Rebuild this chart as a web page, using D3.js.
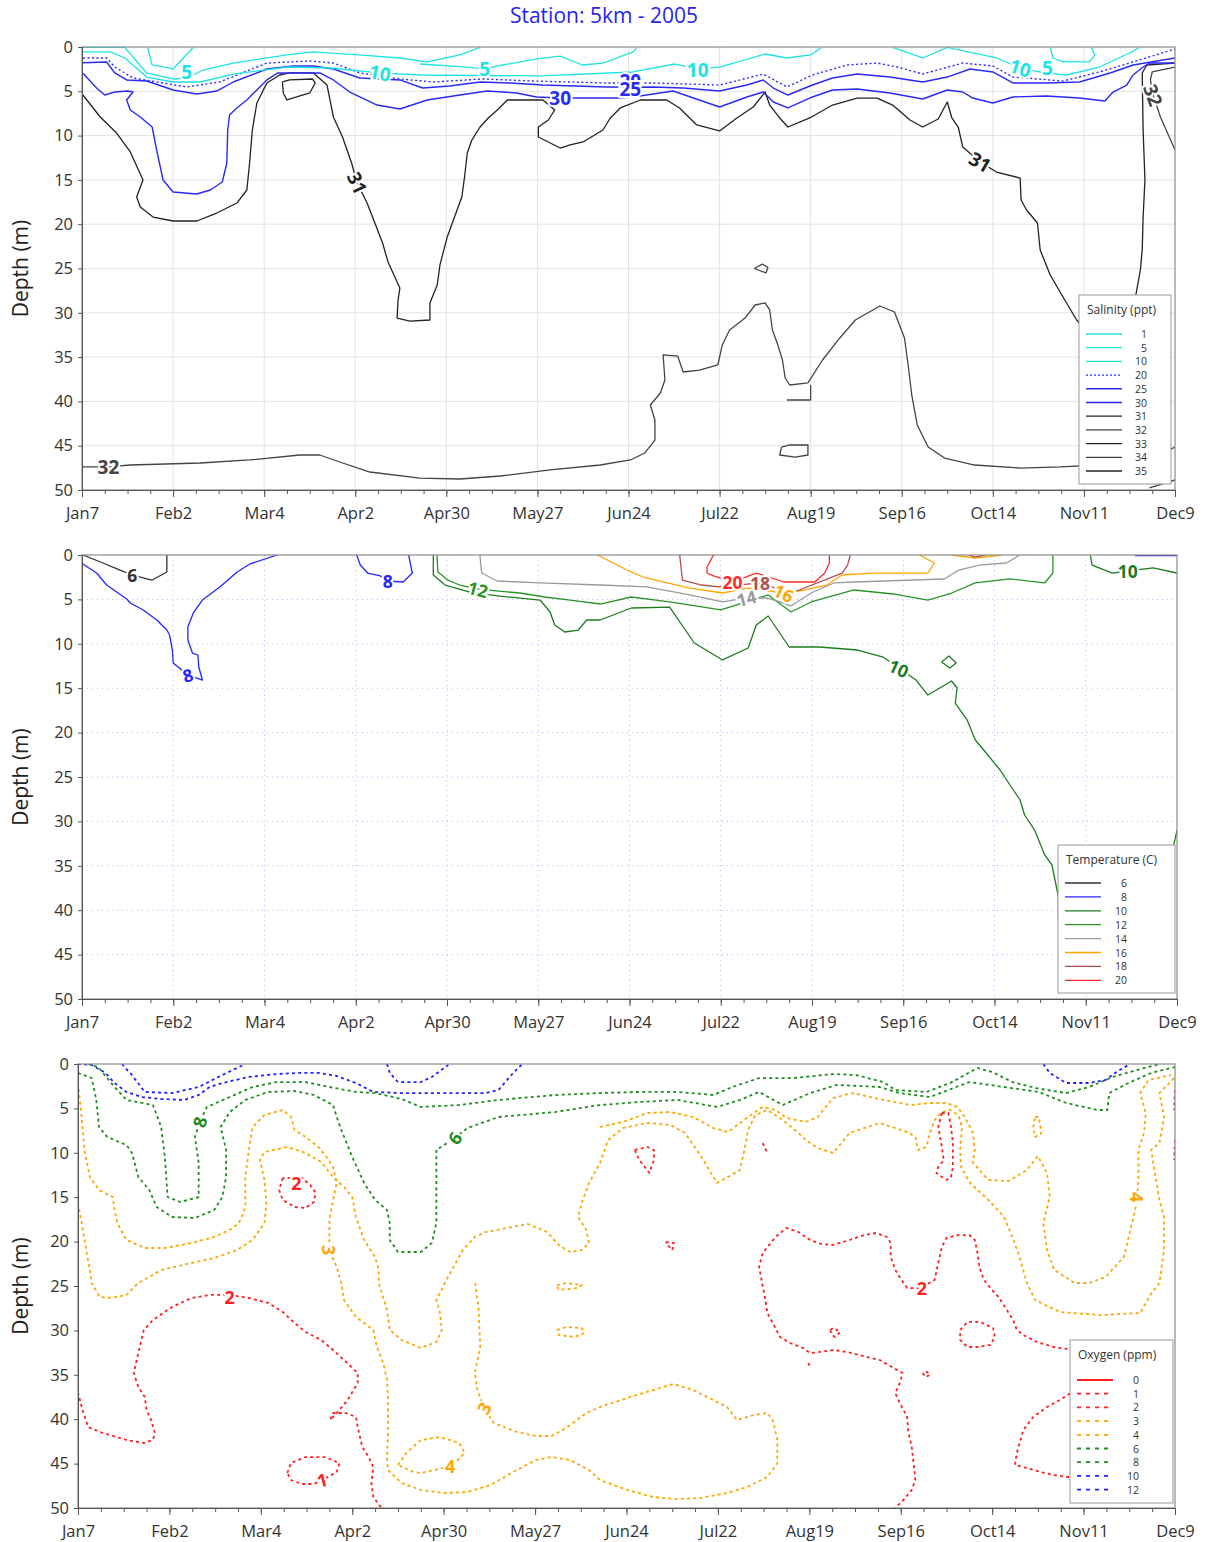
<!DOCTYPE html>
<html><head><meta charset="utf-8">
<script src="https://cdn.jsdelivr.net/npm/d3@7"></script>
<style>
body{margin:0;background:#fff;}
svg{display:block;font-family:"Open Sans","DejaVu Sans",sans-serif;}
</style>
</head><body>
<svg id="chart" width="1209" height="1542"></svg>
<script>
// ---------------- DATA ----------------
const tickLabels = ["Jan7","Feb2","Mar4","Apr2","Apr30","May27","Jun24","Jul22","Aug19","Sep16","Oct14","Nov11","Dec9"];
const depthTicks = [0,5,10,15,20,25,30,35,40,45,50];

const salinityLevels = [1,5,10,20,25,30,31,32,33,34,35];
const temperatureLevels = [6,8,10,12,14,16,18,20];
const oxygenLevels = [0,1,2,3,4,6,8,10,12];

// x = survey index (0 = Jan7 ... 12 = Dec9), y = depth (m)
const salinityLines = [
 {v:31, p:[[0.01,5.42],[0.20,7.90],[0.38,9.71],[0.53,11.85],[0.67,15.01],[0.60,16.93],[0.64,18.06],[0.78,19.19],[1.00,19.64],[1.26,19.64],[1.48,18.74],[1.70,17.61],[1.81,16.14],[1.84,13.09],[1.87,9.37],[1.92,6.32],[2.03,4.06],[2.17,3.16],[2.28,2.93],[2.54,2.93],[2.69,4.29],[2.76,7.90],[2.86,10.16],[2.96,13.09],[3.02,15.35],[3.13,17.61],[3.30,22.12],[3.36,24.27],[3.49,27.20],[3.47,28.56],[3.46,30.59],[3.60,30.93],[3.82,30.81],[3.82,28.89],[3.90,26.86],[3.93,24.60],[4.01,21.44],[4.09,19.19],[4.17,16.93],[4.20,14.67],[4.23,11.96],[4.28,10.50],[4.37,9.03],[4.46,8.01],[4.56,7.11],[4.67,5.98],[5.06,5.98],[5.19,7.11],[5.12,8.24],[5.01,9.03],[5.01,10.16],[5.25,11.40],[5.36,11.06],[5.50,10.72],[5.72,9.37],[5.80,8.01],[5.91,6.88],[6.13,5.98],[6.42,5.98],[6.56,6.88],[6.75,8.80],[7.00,9.48],[7.19,8.01],[7.37,6.77],[7.50,5.08],[7.55,6.55],[7.66,8.01],[7.75,9.03],[7.99,8.01],[8.24,6.55],[8.51,5.76],[8.73,5.76],[8.90,6.55],[9.09,8.24],[9.23,9.03],[9.40,8.13],[9.50,6.21],[9.55,8.01],[9.62,9.03],[9.67,11.29],[9.86,12.98],[10.04,14.11],[10.30,14.79],[10.31,17.27],[10.37,18.40],[10.49,19.86],[10.52,22.91],[10.63,25.73],[10.79,28.56],[10.92,30.81],[11.12,33.07],[11.39,33.63],[11.56,28.56],[11.62,25.17],[11.64,22.91],[11.65,19.19],[11.67,15.01],[11.65,9.37],[11.64,2.93],[11.69,2.03],[12.00,1.81]]},
 {v:31, closed:true, p:[[2.20,3.95],[2.21,5.19],[2.25,5.98],[2.50,5.19],[2.56,4.06],[2.53,3.61],[2.28,3.72]]},
 {v:32, p:[[12.00,2.26],[11.75,2.82],[11.73,3.72],[11.76,5.42],[11.84,7.90],[12.00,11.63]]},
 {v:32, p:[[0.00,47.40],[0.29,47.40],[0.53,47.18],[1.30,46.95],[1.84,46.61],[2.39,46.05],[2.61,46.05],[2.83,46.84],[3.16,47.97],[3.71,48.65],[4.15,48.76],[4.59,48.42],[5.14,47.74],[5.69,47.18],[6.02,46.61],[6.18,45.82],[6.29,44.36],[6.29,42.10],[6.24,40.41],[6.35,39.05],[6.40,37.58],[6.38,34.76],[6.54,34.88],[6.60,36.68],[6.78,36.46],[6.98,35.89],[7.03,33.63],[7.11,31.94],[7.28,30.59],[7.39,29.12],[7.50,28.89],[7.55,29.68],[7.58,31.94],[7.64,33.63],[7.69,35.33],[7.72,37.36],[7.77,38.15],[7.97,37.92],[8.13,35.33],[8.32,32.84],[8.49,30.81],[8.76,29.23],[8.92,29.91],[9.03,32.84],[9.07,35.89],[9.11,39.28],[9.17,42.66],[9.29,45.15],[9.47,46.39],[9.80,47.18],[10.30,47.52],[10.74,47.40],[11.17,47.18],[11.83,46.05],[12.00,45.15]]},
 {v:32, p:[[7.74,39.84],[8.00,39.84],[8.00,38.15]]},
 {v:32, p:[[11.72,49.77],[12.00,48.87]]},
 {v:32, closed:true, p:[[7.38,25.0],[7.47,24.5],[7.53,24.9],[7.51,25.5]]},
 {v:32, closed:true, p:[[7.68,45.15],[7.77,44.92],[7.97,44.92],[7.97,46.05],[7.83,46.28],[7.66,46.05]]},
 {v:30, p:[[0.01,2.97],[0.16,4.63],[0.25,5.42],[0.36,5.08],[0.50,4.97],[0.56,5.08],[0.49,5.98],[0.53,7.11],[0.64,7.90],[0.77,9.03],[0.82,11.63],[0.89,15.01],[1.00,16.37],[1.26,16.59],[1.41,16.14],[1.54,15.24],[1.59,13.09],[1.60,9.37],[1.62,7.67],[1.70,6.88],[1.81,5.98],[1.92,4.85],[2.03,3.72],[2.15,2.93],[2.61,2.93],[2.76,3.72],[2.94,5.08],[3.24,6.55],[3.49,7.00],[3.79,5.98],[4.15,5.42],[4.45,4.97],[4.77,5.19],[4.99,5.64],[5.25,5.76],[5.52,5.76],[5.87,5.76],[6.05,5.64],[6.49,4.97],[7.00,6.77],[7.30,5.64],[7.48,5.08],[7.59,6.21],[7.75,6.88],[8.02,5.64],[8.24,4.85],[8.51,4.74],[8.87,5.19],[9.23,5.87],[9.50,4.85],[9.67,5.08],[9.78,5.76],[10.00,6.32],[10.22,5.64],[10.59,5.53],[10.95,5.76],[11.23,6.09],[11.32,5.08],[11.47,4.29],[11.54,3.16],[11.65,2.26],[11.72,1.81],[12.00,1.81]]},
 {v:25, p:[[0.01,1.77],[0.27,1.69],[0.36,2.93],[0.49,3.72],[0.71,3.84],[1.00,4.85],[1.26,5.30],[1.48,4.97],[1.66,3.95],[2.03,2.48],[2.32,2.14],[2.54,2.14],[2.76,2.48],[3.05,3.50],[3.49,3.72],[3.74,4.63],[4.04,4.40],[4.37,3.95],[4.70,4.06],[5.06,4.29],[5.76,4.51],[6.02,4.55],[6.27,4.51],[6.60,4.63],[7.00,4.97],[7.30,4.29],[7.48,3.72],[7.59,4.63],[7.75,5.42],[8.02,4.29],[8.24,3.50],[8.51,3.05],[8.87,3.39],[9.23,3.95],[9.50,3.39],[9.75,2.48],[10.00,2.82],[10.22,4.06],[10.59,4.06],[10.95,3.95],[11.14,3.39],[11.32,2.82],[11.54,2.03],[12.00,1.24]]},
 {v:20, p:[[0.01,1.24],[0.27,1.24],[0.36,2.26],[0.56,3.50],[1.15,4.51],[1.51,3.95],[2.03,1.81],[2.50,1.58],[2.76,1.81],[3.05,2.93],[3.49,3.61],[3.85,3.95],[4.40,3.61],[4.95,3.84],[5.76,4.06],[6.27,4.06],[7.00,4.29],[7.48,3.05],[7.74,4.51],[8.02,3.16],[8.40,2.03],[8.73,1.81],[8.95,2.26],[9.23,3.05],[9.67,1.81],[10.00,2.14],[10.22,3.39],[10.77,3.84],[11.17,2.82],[11.50,1.81],[12.00,0.23]]},
 {v:10, p:[[0.01,0.56],[0.31,0.56],[0.47,1.24],[0.71,3.39],[1.00,3.95],[1.30,3.95],[1.66,3.05],[2.25,2.26],[2.72,2.37],[3.27,2.93],[3.71,3.16],[5.03,3.27],[6.05,2.82],[6.51,1.92],[6.76,2.48],[7.00,2.26],[7.50,0.79],[7.74,1.24],[8.00,0.90],[8.12,0.05]]},
 {v:5, p:[[0.01,0.05],[0.47,0.05],[0.71,2.93],[1.00,3.61],[1.15,3.50],[1.33,2.60],[1.66,1.81],[2.25,0.90],[2.54,0.56],[3.03,0.90],[3.49,1.24],[3.79,1.69],[4.15,0.90],[4.37,0.05]]},
 {v:5, p:[[3.71,1.92],[4.23,2.26],[4.42,2.48],[4.62,2.03],[4.99,1.35],[5.25,1.02],[5.49,2.03],[5.72,1.81],[6.05,0.56],[6.09,0.05]]},
 {v:1, p:[[0.72,0.05],[0.77,2.03],[1.00,2.48],[1.22,0.05]]},
 {v:10, p:[[8.90,0.05],[9.23,1.24],[9.50,0.05]]},
 {v:10, p:[[9.50,0.05],[10.04,1.24],[10.30,2.37],[10.57,2.93],[10.81,3.16],[11.17,2.26],[11.50,0.68],[11.61,0.05]]},
 {v:5, p:[[10.63,0.05],[10.66,1.24],[10.77,1.69],[11.06,1.69],[11.12,0.90],[11.08,0.05]]}
];
const salinityLabels = [
 {t:"5",v:5,x:1.15,d:2.82,a:0},{t:"10",v:10,x:3.27,d:2.93,a:12},{t:"5",v:5,x:4.42,d:2.48,a:0},
 {t:"10",v:10,x:6.76,d:2.60,a:0},{t:"10",v:10,x:10.30,d:2.37,a:18},{t:"5",v:5,x:10.60,d:2.37,a:0},
 {t:"30",v:30,x:5.25,d:5.76,a:0},{t:"20",v:20,x:6.02,d:3.85,a:0},{t:"25",v:25,x:6.02,d:4.70,a:0},
 {t:"31",v:31,x:3.02,d:15.35,a:65},{t:"31",v:31,x:9.86,d:12.98,a:30},{t:"32",v:32,x:11.76,d:5.42,a:70},
 {t:"32",v:32,x:0.29,d:47.40,a:0}
];

const temperatureLines = [
 {v:6, p:[[0.01,0.0],[0.23,0.90],[0.39,1.58],[0.55,2.25],[0.71,2.70],[0.77,2.82],[0.93,1.91],[0.93,0.0]]},
 {v:8, p:[[0.01,1.01],[0.16,2.03],[0.27,3.38],[0.49,4.95],[0.53,5.41],[0.67,6.19],[0.82,7.32],[0.93,8.45],[0.96,9.01],[0.99,10.70],[1.00,12.16],[1.04,12.50],[1.16,13.51],[1.32,14.08],[1.28,12.61],[1.27,11.26],[1.21,11.04],[1.16,9.57],[1.16,8.11],[1.22,6.53],[1.32,5.07],[1.51,3.60],[1.70,1.91],[1.84,1.01],[2.14,0.0]]},
 {v:8, p:[[3.01,0.0],[3.05,1.13],[3.13,2.03],[3.27,2.36],[3.35,2.93],[3.52,3.04],[3.62,2.03],[3.58,0.0]]},
 {v:8, p:[[11.54,0.06],[12.0,0.06]]},
 {v:12, p:[[3.89,0.0],[3.90,1.91],[4.01,2.82],[4.14,3.38],[4.34,3.83],[4.54,4.05],[4.80,4.28],[5.07,4.73],[5.35,5.07],[5.68,5.52],[6.02,4.73],[6.44,5.29],[7.00,6.19],[7.52,4.50],[7.77,6.42],[7.99,5.29],[8.46,3.94],[8.89,4.39],[9.27,5.07],[9.53,4.28],[9.79,3.15],[10.17,2.70],[10.55,3.15],[10.64,2.03],[10.64,0.0]]},
 {v:10, p:[[3.85,0.0],[3.85,2.25],[3.98,3.38],[4.25,4.17],[4.58,4.62],[5.02,5.07],[5.13,6.42],[5.18,7.88],[5.29,8.67],[5.44,8.45],[5.53,7.32],[5.68,7.32],[6.02,5.97],[6.44,5.86],[6.71,9.91],[7.02,11.82],[7.30,10.47],[7.39,7.88],[7.52,6.87],[7.75,10.36],[8.08,10.36],[8.50,10.70],[8.78,11.49],[8.95,12.73],[9.14,14.08],[9.27,15.77],[9.53,14.19],[9.59,14.98],[9.57,16.67],[9.70,18.58],[9.79,20.83],[9.90,22.18],[10.06,24.21],[10.17,25.90],[10.28,27.59],[10.33,29.28],[10.44,30.97],[10.55,33.78],[10.63,34.91],[10.70,38.51],[10.70,41.10]]},
 {v:10, closed:true, p:[[9.42,12.05],[9.50,11.37],[9.58,12.16],[9.51,12.73]]},
 {v:10, p:[[11.05,0.0],[11.07,1.13],[11.29,2.03],[11.46,1.80],[11.74,1.46],[12.0,2.03]]},
 {v:10, p:[[12.0,30.97],[11.96,32.88],[11.92,34.35]]},
 {v:14, p:[[4.36,0.0],[4.38,2.03],[4.55,2.93],[5.02,3.15],[5.68,3.38],[6.19,3.60],[6.66,4.50],[7.02,5.29],[7.28,4.84],[7.50,4.84],[7.65,5.29],[7.77,5.74],[7.99,4.28],[8.24,3.15],[8.46,3.04],[9.45,2.70],[9.61,1.69],[9.83,1.13],[10.13,0.90],[10.28,0.0]]},
 {v:16, p:[[5.65,0.0],[5.97,1.69],[6.15,2.48],[6.66,3.72],[7.02,4.28],[7.30,3.72],[7.69,4.28],[7.92,3.94],[8.16,3.38],[8.33,2.25],[8.67,2.03],[9.27,2.03],[9.34,0.90],[9.18,0.0]]},
 {v:16, p:[[9.53,0.0],[9.79,0.34],[10.08,0.0]]},
 {v:18, p:[[6.55,0.0],[6.58,2.82],[6.79,3.38],[6.98,3.60],[7.43,3.15],[7.77,4.28],[7.86,3.94],[8.33,2.03],[8.39,1.13],[8.42,0.0]]},
 {v:18, p:[[9.72,0.0],[9.79,0.23],[9.90,0.0]]},
 {v:20, p:[[6.92,0.0],[6.85,1.35],[6.85,2.03],[6.92,2.36],[7.13,3.04],[7.39,2.03],[7.69,3.04],[8.03,3.04],[8.14,2.03],[8.19,0.90],[8.19,0.0]]}
];
const temperatureLabels = [
 {t:"6",v:6,x:0.55,d:2.25,a:0},{t:"8",v:8,x:1.16,d:13.51,a:-15},{t:"8",v:8,x:3.35,d:2.93,a:0},
 {t:"12",v:12,x:4.34,d:3.83,a:15},{t:"20",v:20,x:7.13,d:3.04,a:0},{t:"18",v:18,x:7.43,d:3.15,a:0},
 {t:"14",v:14,x:7.28,d:4.84,a:-15},{t:"16",v:16,x:7.69,d:4.28,a:25},{t:"10",v:10,x:8.95,d:12.73,a:25},
 {t:"10",v:10,x:11.46,d:1.80,a:0}
];

const oxygenLines = [
 {v:10, p:[[0,0],[0.15,0.11],[0.30,1.01],[0.40,2.14],[0.53,3.15],[0.70,3.72],[0.91,3.94],[1.16,4.05],[1.32,3.49],[1.44,2.59],[1.58,2.14],[1.87,1.46],[2.17,1.13],[2.41,1.01],[2.63,1.01],[2.83,1.35],[3.04,2.14],[3.23,3.15],[3.54,3.27],[3.96,3.27],[4.46,3.27],[4.60,2.93],[4.76,1.01],[4.86,0]]},
 {v:12, p:[[0.48,0],[0.59,1.24],[0.73,3.15],[1.03,3.27],[1.32,2.59],[1.58,1.24],[1.83,0]]},
 {v:12, p:[[3.38,0],[3.41,1.01],[3.50,2.03],[3.75,2.03],[3.87,1.46],[4.05,0.11]]},
 {v:10, p:[[10.56,0],[10.63,1.01],[10.81,2.14],[11.06,2.14],[11.24,1.80],[11.36,0.90],[11.49,0.11]]},
 {v:6, p:[[0,1.01],[0.15,1.58],[0.20,4.05],[0.23,7.09],[0.32,8.22],[0.53,9.12],[0.59,10.02],[0.66,12.73],[0.78,14.19],[0.86,16.10],[1.03,17.23],[1.28,17.34],[1.49,16.44],[1.58,14.98],[1.62,12.73],[1.62,9.68],[1.56,7.09],[1.66,5.41],[1.83,4.05],[2.08,3.15],[2.37,3.04],[2.58,3.49],[2.79,4.62],[2.83,5.97],[2.88,7.43],[3.00,10.47],[3.13,13.40],[3.25,15.32],[3.38,16.44],[3.41,17.91],[3.41,19.82],[3.50,21.17],[3.75,21.17],[3.87,20.16],[3.92,17.91],[3.92,14.19],[3.92,9.68],[4.12,8.33],[4.26,7.21],[4.60,5.97],[5.22,5.41],[5.71,4.62],[6.14,4.28],[6.56,4.05],[6.99,4.84],[7.24,4.05],[7.45,3.15],[7.71,4.62],[8.01,3.27],[8.30,2.36],[8.77,2.59],[8.98,3.27],[9.32,3.72],[9.75,2.03],[10.13,2.59],[10.51,3.15],[10.81,4.39],[11.15,5.18],[11.26,5.18],[11.28,3.27],[11.49,2.14],[11.74,1.01],[12.00,0.34]]},
 {v:8, p:[[0.11,0],[0.22,0.34],[0.40,2.59],[0.53,4.05],[0.82,4.62],[0.91,7.09],[0.95,10.47],[0.98,14.98],[1.12,15.54],[1.32,14.98],[1.32,11.15],[1.28,8.22],[1.33,6.53],[1.41,4.84],[1.66,3.72],[1.91,2.59],[2.17,2.03],[2.49,2.03],[2.75,2.59],[3.04,3.15],[3.25,3.27],[3.54,3.94],[3.75,4.84],[4.17,4.62],[4.60,4.05],[5.22,3.49],[5.71,3.27],[6.14,3.15],[6.56,3.15],[6.95,3.49],[7.16,2.59],[7.45,1.58],[7.83,1.58],[8.26,1.13],[8.51,1.24],[8.81,2.03],[8.94,2.93],[9.28,3.15],[9.54,2.14],[9.84,0.45],[10.00,0.90],[10.22,2.03],[10.47,2.70],[10.81,3.27],[11.06,2.59],[11.32,1.46],[11.58,0.68],[11.83,0]]},
 {v:3, p:[[0,2.14],[0.04,5.97],[0.07,9.68],[0.13,12.73],[0.23,14.19],[0.38,14.98],[0.40,16.44],[0.43,17.91],[0.53,19.82],[0.73,20.72],[0.95,20.72],[1.24,20.16],[1.49,19.48],[1.70,18.47],[1.78,17.57],[1.83,16.10],[1.83,12.73],[1.87,9.68],[1.91,7.09],[2.04,5.74],[2.24,5.18],[2.33,5.97],[2.37,7.43],[2.49,8.22],[2.63,9.35],[2.72,10.47],[2.79,11.60],[2.83,13.40],[2.79,15.32],[2.75,17.57],[2.75,19.48],[2.75,20.95],[2.83,22.86],[2.88,24.66],[2.91,26.58],[3.04,28.49],[3.23,29.95],[3.27,31.87],[3.34,33.67],[3.38,35.59],[3.39,37.50],[3.39,39.30],[3.39,42.00],[3.38,44.26],[3.39,45.72],[3.54,47.18],[3.75,47.97],[4.00,48.31],[4.26,48.20],[4.51,47.41],[4.80,45.72],[5.01,44.59],[5.18,44.26],[5.38,44.59],[5.59,45.72],[5.71,46.85],[6.01,47.97],[6.29,48.76],[6.55,48.99],[6.81,48.87],[7.10,48.31],[7.32,47.64],[7.54,46.51],[7.65,44.93],[7.65,42.34],[7.60,40.09],[7.54,39.30],[7.39,39.53],[7.21,40.09],[7.10,38.63],[6.73,36.71],[6.51,36.04],[6.04,37.50],[5.71,38.63],[5.56,39.30],[5.34,40.99],[5.18,41.89],[5.01,41.89],[4.80,41.44],[4.55,40.43],[4.44,38.74],[4.37,36.71],[4.34,34.80],[4.40,31.87],[4.38,27.36],[4.34,24.32]]},
 {v:3, p:[[0,15.65],[0.04,17.91],[0.09,20.95],[0.13,23.20],[0.15,24.66],[0.24,26.24],[0.36,26.35],[0.53,26.01],[0.66,24.66],[0.91,23.20],[1.24,22.41],[1.49,21.85],[1.74,20.95],[1.91,19.82],[2.04,17.91],[2.06,15.65],[2.04,13.06],[1.99,10.81],[2.04,9.91],[2.29,9.35],[2.49,10.02],[2.66,11.04],[2.79,12.73],[2.91,13.85],[3.00,14.98],[3.04,17.23],[3.13,19.82],[3.25,21.73],[3.29,23.20],[3.29,24.66],[3.38,27.70],[3.41,29.95],[3.54,31.08],[3.75,31.98],[3.92,31.31],[3.98,29.95],[3.96,28.04],[3.92,26.58],[4.03,24.32],[4.21,20.95],[4.34,19.48],[4.46,18.92],[4.92,18.02],[5.13,18.92],[5.26,20.38],[5.38,21.17],[5.51,20.95],[5.59,20.16],[5.56,18.69],[5.47,17.23],[5.51,15.65],[5.59,13.40],[5.71,11.15],[5.80,8.56],[5.96,7.21],[6.23,6.64],[6.48,6.87],[6.64,7.77],[6.82,10.47],[6.99,13.40],[7.11,12.73],[7.24,11.94],[7.29,9.68],[7.33,7.43],[7.41,5.74],[7.54,5.18],[7.71,6.31],[7.88,7.77],[7.96,8.56],[8.09,9.46],[8.26,10.02],[8.35,8.90],[8.44,7.77],[8.64,7.09],[8.77,6.64],[9.07,7.66],[9.16,8.22],[9.19,9.68],[9.28,9.35],[9.32,7.77],[9.37,6.31],[9.45,5.41],[9.54,5.18],[9.63,5.74],[9.67,7.09],[9.65,9.68],[9.66,11.60],[9.76,13.40],[9.96,15.32],[10.13,17.23],[10.22,19.48],[10.30,21.73],[10.38,24.66],[10.47,26.58],[10.74,27.93],[11.18,28.27],[11.62,28.04],[11.73,26.01],[11.83,24.66],[11.88,20.95],[11.88,17.23],[11.83,15.32],[11.78,12.27],[11.74,9.68],[11.83,8.90],[11.88,5.97],[11.83,3.27],[12,1.46]]},
 {v:4, p:[[5.71,7.09],[5.96,6.53],[6.23,5.52],[6.48,5.41],[6.73,5.97],[6.95,7.21],[7.11,7.66],[7.33,5.97],[7.49,4.84],[7.63,5.18],[7.75,6.08],[7.96,6.53],[8.09,5.97],[8.26,3.83],[8.47,3.27],[8.81,4.05],[9.11,4.62],[9.32,4.39],[9.50,4.39],[9.62,4.84],[9.70,5.97],[9.79,7.77],[9.81,9.68],[9.79,11.15],[9.96,13.06],[10.18,13.18],[10.38,11.94],[10.50,10.36],[10.60,12.27],[10.63,14.98],[10.56,17.91],[10.60,20.95],[10.68,23.20],[10.90,24.66],[11.06,24.66],[11.24,23.99],[11.44,21.73],[11.53,17.91],[11.58,15.65],[11.60,12.73],[11.60,9.68],[11.66,7.77],[11.68,5.52],[11.62,3.27],[11.71,1.80],[11.96,1.24]]},
 {v:4, closed:true, p:[[3.50,45.16],[3.59,43.81],[3.75,42.34],[3.96,42.00],[4.17,42.68],[4.23,43.81],[4.09,45.27],[3.75,46.06],[3.67,45.95]]},
 {v:4, closed:true, p:[[5.24,24.89],[5.34,24.66],[5.51,24.89],[5.47,25.23],[5.26,25.45]]},
 {v:4, closed:true, p:[[5.24,29.95],[5.34,29.62],[5.51,29.73],[5.54,30.29],[5.43,30.74],[5.26,30.52]]},
 {v:4, closed:true, p:[[10.47,5.97],[10.51,5.97],[10.54,7.77],[10.47,8.22],[10.45,7.09]]},
 {v:2, p:[[0,36.94],[0.04,38.63],[0.11,40.88],[0.27,41.55],[0.53,42.34],[0.72,42.68],[0.82,42.34],[0.84,41.55],[0.80,40.09],[0.75,38.96],[0.73,37.50],[0.66,36.37],[0.61,34.80],[0.66,32.55],[0.72,29.95],[0.82,28.83],[1.03,27.36],[1.24,26.35],[1.44,26.01],[1.66,26.01],[1.87,26.35],[2.08,26.91],[2.24,27.93],[2.37,29.17],[2.49,30.18],[2.66,31.08],[2.79,32.21],[2.91,33.33],[3.06,34.80],[3.06,35.92],[2.95,37.84],[2.83,39.30],[2.76,40.09],[2.79,39.30],[2.93,39.30],[3.04,39.75],[3.06,40.88],[3.11,43.13],[3.18,44.26],[3.23,45.38],[3.21,47.18],[3.23,48.76],[3.32,50]]},
 {v:1, closed:true, p:[[2.29,46.06],[2.33,44.93],[2.49,44.26],[2.70,44.26],[2.86,44.93],[2.83,45.95],[2.67,46.85],[2.58,47.30],[2.45,47.30],[2.33,46.85]]},
 {v:2, closed:true, p:[[2.24,12.84],[2.20,14.19],[2.24,15.32],[2.37,16.10],[2.49,16.22],[2.58,15.54],[2.60,14.53],[2.54,13.63],[2.45,12.84]]},
 {v:2, p:[[8.92,50.2],[9.03,49.1],[9.12,47.97],[9.16,46.85],[9.14,44.93],[9.12,43.13],[9.08,41.22],[9.07,39.75],[8.99,38.18],[8.94,37.05],[8.99,35.92],[9.02,34.80],[8.92,34.23],[8.77,33.33],[8.63,33.00],[8.41,32.43],[8.26,32.21],[8.12,32.43],[8.01,32.55],[7.93,31.98],[7.79,31.42],[7.68,30.74],[7.60,29.17],[7.54,28.04],[7.52,26.58],[7.45,22.86],[7.49,21.28],[7.63,19.48],[7.75,18.47],[7.88,18.92],[8.01,19.82],[8.13,20.27],[8.26,20.38],[8.44,19.82],[8.60,19.26],[8.73,19.03],[8.85,19.48],[8.89,20.16],[8.89,21.73],[8.94,23.20],[9.03,24.66],[9.07,25.23],[9.21,25.23],[9.37,24.32],[9.41,22.41],[9.45,20.61],[9.50,19.59],[9.62,19.26],[9.75,19.26],[9.81,19.82],[9.84,21.28],[9.86,22.86],[9.91,24.32],[10.00,25.45],[10.07,26.24],[10.16,27.70],[10.23,28.83],[10.27,29.95],[10.34,30.52],[10.49,31.31],[10.67,31.87],[10.91,32.21],[11.18,32.21]]},
 {v:2, p:[[10.91,36.71],[10.74,37.84],[10.60,38.63],[10.45,39.75],[10.34,41.22],[10.27,43.81],[10.25,45.16],[10.38,45.50],[10.53,45.95],[10.67,46.28],[10.83,46.51],[11.07,46.85]]},
 {v:2, p:[[11.88,45.38],[12,44.82]]},
 {v:2, closed:true, p:[[9.65,29.95],[9.73,29.05],[9.87,29.05],[10.01,29.73],[10.03,30.74],[9.98,31.64],[9.84,31.87],[9.73,31.87],[9.65,31.08]]},
 {v:2, closed:true, p:[[8.23,29.95],[8.26,29.73],[8.34,30.18],[8.28,30.74],[8.25,30.52]]},
 {v:2, p:[[7.99,33.67],[8.01,34.23]]},
 {v:2, closed:true, p:[[9.24,34.80],[9.27,35.25],[9.32,35.02],[9.29,34.68]]},
 {v:2, closed:true, p:[[6.09,9.68],[6.23,9.35],[6.30,9.68],[6.30,10.81],[6.25,12.27],[6.14,10.81]]},
 {v:2, p:[[7.49,8.90],[7.54,10.02]]},
 {v:2, closed:true, p:[[6.43,20.05],[6.52,20.16],[6.50,20.95],[6.45,20.38]]},
 {v:2, closed:true, p:[[9.45,5.52],[9.41,7.09],[9.45,9.35],[9.47,10.81],[9.41,11.60],[9.39,12.27],[9.50,13.06],[9.55,12.73],[9.57,11.60],[9.57,8.90],[9.55,7.09],[9.52,5.52]]},
 {v:2, p:[[12,2.93],[11.99,5.18]]},
 {v:2, p:[[12,8.56],[11.99,10.81]]}
];
const oxygenLabels = [
 {t:"8",v:8,x:1.33,d:6.53,a:-75},{t:"6",v:6,x:4.12,d:8.33,a:-55},{t:"2",v:2,x:2.39,d:13.40,a:0},
 {t:"3",v:3,x:2.75,d:20.95,a:90},{t:"2",v:2,x:1.66,d:26.20,a:0},{t:"1",v:1,x:2.67,d:46.85,a:-15},
 {t:"4",v:4,x:4.07,d:45.27,a:0},{t:"3",v:3,x:4.44,d:38.74,a:-60},{t:"2",v:2,x:9.23,d:25.23,a:0},
 {t:"4",v:4,x:11.58,d:14.98,a:90}
];

// ---------------- STYLES ----------------
function salStyle(v){
  if (v<=10) return {c:"#1ee3e3", w:1.3, dash:null};
  if (v===20) return {c:"#2b2bff", w:1.4, dash:"2,2.5"};
  if (v<=30) return {c:"#2a2af5", w:1.4, dash:null};
  return {c: (v%2? "#222":"#444"), w:1.3, dash:null};
}
function tempStyle(v){
  const m = {6:"#333333",8:"#2424ff",10:"#1e7d1e",12:"#2a942a",14:"#9a9a9a",16:"#ffa500",18:"#b04e4e",20:"#ff2a2a"};
  return {c:m[v], w:1.3, dash:null};
}
function oxyStyle(v){
  const c = v<=2 ? "#ff1f1f" : v<=4 ? "#ffa500" : v<=8 ? "#1e8c1e" : "#2020ff";
  return {c:c, w:1.8, dash: v===0 ? null : "3,3.2"};
}

// ---------------- DRAW ----------------
const svg = d3.select("#chart");

svg.append("text").attr("x",604).attr("y",23).attr("text-anchor","middle")
  .attr("font-size",21).attr("fill","#2424f0").text("Station: 5km - 2005");

function drawPanel(cfg){
  const x = d3.scaleLinear().domain([0,12]).range([cfg.left,cfg.right]);
  const y = d3.scaleLinear().domain([0,50]).range([cfg.top,cfg.bottom]);
  const g = svg.append("g");

  if (cfg.grid){
    const gg = g.append("g");
    const st = cfg.grid==="solid" ? {c:"#e3e3e3",d:null} : {c:"#b4b4ff",d:"1,4"};
    d3.range(1,12).forEach(i=>{
      gg.append("line").attr("x1",x(i)).attr("x2",x(i)).attr("y1",y(0)).attr("y2",y(50))
        .attr("stroke",st.c).attr("stroke-width",1).attr("stroke-dasharray",st.d);
    });
    depthTicks.slice(1,-1).forEach(d=>{
      gg.append("line").attr("x1",x(0)).attr("x2",x(12)).attr("y1",y(d)).attr("y2",y(d))
        .attr("stroke",st.c).attr("stroke-width",1).attr("stroke-dasharray",st.d);
    });
  }

  const clipId = "clip-"+cfg.id;
  svg.append("clipPath").attr("id",clipId).append("rect")
    .attr("x",cfg.left).attr("y",cfg.top).attr("width",cfg.right-cfg.left).attr("height",cfg.bottom-cfg.top);

  const line = d3.line().x(p=>x(p[0])).y(p=>y(p[1]));
  const cg = g.append("g").attr("clip-path",`url(#${clipId})`);
  cfg.lines.forEach(l=>{
    const s = cfg.style(l.v);
    const pts = l.closed ? l.p.concat([l.p[0]]) : l.p;
    cg.append("path").attr("d",line(pts)).attr("fill","none")
      .attr("stroke",s.c).attr("stroke-width",s.w).attr("stroke-dasharray",s.dash)
      .attr("stroke-linejoin","round");
  });

  cfg.labels.forEach(lb=>{
    const s = cfg.style(lb.v);
    cg.append("text").attr("transform",`translate(${x(lb.x)},${y(lb.d)}) rotate(${lb.a})`)
      .attr("text-anchor","middle").attr("dominant-baseline","central")
      .attr("font-size",cfg.labelSize).attr("font-weight","bold")
      .attr("fill",s.c).attr("stroke","#fff").attr("stroke-width",4).attr("paint-order","stroke")
      .text(lb.t);
  });

  g.append("rect").attr("x",cfg.left).attr("y",cfg.top).attr("width",cfg.right-cfg.left).attr("height",cfg.bottom-cfg.top)
    .attr("fill","none").attr("stroke","#8a8a8a").attr("stroke-width",1.2);

  const xa = g.append("g").attr("transform",`translate(0,${cfg.bottom})`);
  xa.call(d3.axisBottom(x).tickValues(d3.range(0,12.01,0.25)).tickSize(4).tickFormat(""));
  const xb = g.append("g").attr("transform",`translate(0,${cfg.bottom})`);
  xb.call(d3.axisBottom(x).tickValues(d3.range(13)).tickSize(7).tickPadding(10).tickFormat(i=>tickLabels[i]));
  [xa,xb].forEach(a=>{ a.selectAll("path.domain").attr("stroke","#555"); a.selectAll("line").attr("stroke","#555"); });
  xb.selectAll("text").attr("font-size",16.5).attr("fill","#333").attr("font-family","'Open Sans',sans-serif");

  const ya = g.append("g").attr("transform",`translate(${cfg.left},0)`);
  ya.call(d3.axisLeft(y).tickValues(depthTicks).tickSize(4).tickPadding(5));
  ya.selectAll("path.domain").attr("stroke","#555");
  ya.selectAll("line").attr("stroke","#555");
  ya.selectAll("text").attr("font-size",16.5).attr("fill","#333").attr("font-family","'Open Sans',sans-serif");

  svg.append("text").attr("transform",`translate(20,${(cfg.top+cfg.bottom)/2}) rotate(-90)`)
    .attr("text-anchor","middle").attr("dominant-baseline","central")
    .attr("font-size",21).attr("fill","#222").text("Depth (m)");

  const L = cfg.legend;
  const lg = svg.append("g");
  lg.append("rect").attr("x",L.x).attr("y",L.y).attr("width",L.w).attr("height",L.h)
    .attr("fill","#fff").attr("stroke","#999").attr("stroke-width",1);
  lg.append("text").attr("x",L.x+8).attr("y",L.y+19).attr("font-size",12).attr("fill","#333").text(cfg.legendTitle);
  cfg.levels.forEach((v,i)=>{
    const s = cfg.style(v);
    const yy = L.y + L.first + i*L.step;
    lg.append("line").attr("x1",L.x+L.l1).attr("x2",L.x+L.l2).attr("y1",yy).attr("y2",yy)
      .attr("stroke",s.c).attr("stroke-width",s.w).attr("stroke-dasharray",s.dash ? (cfg.id==="oxy"?"4,5":"2,2") : null);
    lg.append("text").attr("x",L.x+L.tx).attr("y",yy).attr("dominant-baseline","central").attr("text-anchor","end")
      .attr("font-size",10.5).attr("fill","#333").text(v);
  });
}

drawPanel({id:"sal", left:82, right:1175, top:47, bottom:490, grid:"solid",
  lines:salinityLines, labels:salinityLabels, style:salStyle, levels:salinityLevels, labelSize:19,
  legendTitle:"Salinity (ppt)", legend:{x:1079,y:295,w:92,h:189,first:39,step:13.7,l1:7,l2:43,tx:68}});
drawPanel({id:"temp", left:82, right:1177, top:555, bottom:999, grid:"dotted",
  lines:temperatureLines, labels:temperatureLabels, style:tempStyle, levels:temperatureLevels, labelSize:17.5,
  legendTitle:"Temperature (C)", legend:{x:1058,y:845,w:117,h:148,first:38,step:13.9,l1:7,l2:43,tx:69}});
drawPanel({id:"oxy", left:78, right:1175, top:1064, bottom:1508, grid:null,
  lines:oxygenLines, labels:oxygenLabels, style:oxyStyle, levels:oxygenLevels, labelSize:18,
  legendTitle:"Oxygen (ppm)", legend:{x:1070,y:1340,w:103,h:163,first:40,step:13.7,l1:7,l2:43,tx:69}});
</script>
</body></html>
